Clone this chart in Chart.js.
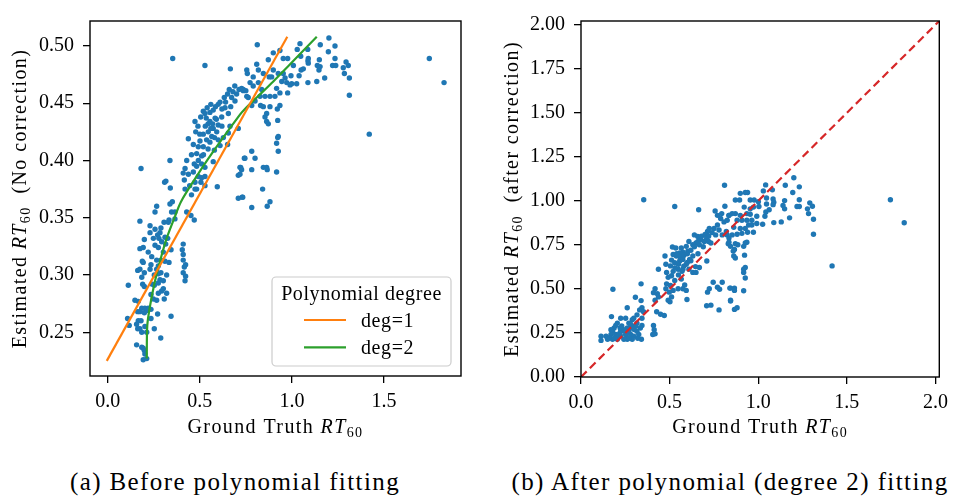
<!DOCTYPE html>
<html>
<head>
<meta charset="utf-8">
<script src="https://cdn.jsdelivr.net/npm/chart.js@4"></script>
<style>
  html, body { margin: 0; padding: 0; background: #fff; }
  #wrap { position: relative; width: 955px; height: 499px; overflow: hidden; }
  canvas { position: absolute; top: 0; }
  .cap { position: absolute; top: 468px; font-family: "Liberation Serif", serif; font-size: 25px;
         letter-spacing: 1.4px; line-height: 28px; text-align: center; color: #000; white-space: nowrap; }
</style>
</head>
<body>
<div id="wrap">
  <canvas id="before" width="475" height="460" style="left:0"></canvas>
  <canvas id="after" width="475" height="460" style="left:480px"></canvas>
  <div class="cap" style="left:0; width:470px">(a) Before polynomial fitting</div>
  <div class="cap" style="left:505px; width:450px">(b) After polynomial (degree 2) fitting</div>
</div>
<script>
// ground truth RT60 vs estimated RT60 (no correction)
const beforePoints = [
  [0.353,0.489],[0.528,0.483],[0.666,0.480],[0.181,0.393],[0.338,0.400],[0.309,0.381],[0.340,0.376],
  [0.351,0.364],[0.595,0.377],[0.709,0.367],[0.730,0.368],[0.709,0.387],[0.722,0.394],[0.742,0.402],
  [0.474,0.434],[0.438,0.419],[0.478,0.425],[0.519,0.443],[0.528,0.441],[0.555,0.442],[0.573,0.444],
  [0.600,0.449],[0.610,0.451],[0.633,0.455],[0.651,0.458],[0.673,0.455],[0.691,0.452],[0.713,0.462],
  [0.736,0.461],[0.668,0.447],[0.637,0.446],[0.655,0.441],[0.619,0.438],[0.583,0.437],[0.555,0.434],
  [0.600,0.431],[0.573,0.428],[0.592,0.425],[0.546,0.425],[0.519,0.423],[0.537,0.418],[0.501,0.417],
  [0.555,0.416],[0.519,0.412],[0.492,0.412],[0.483,0.406],[0.510,0.404],[0.492,0.400],[0.510,0.397],
  [0.483,0.395],[0.528,0.394],[0.429,0.400],[0.420,0.393],[0.410,0.389],[0.438,0.388],[0.492,0.386],
  [0.510,0.385],[0.474,0.381],[0.528,0.386],[0.416,0.383],[0.420,0.375],[0.483,0.375],[0.506,0.381],
  [0.573,0.399],[0.579,0.409],[0.610,0.413],[0.628,0.420],[0.655,0.424],[0.651,0.414],[0.664,0.430],
  [0.709,0.428],[0.474,0.375],[0.528,0.378],
  [0.530,0.430],[0.545,0.432],[0.560,0.428],[0.565,0.421],[0.580,0.420],[0.570,0.432],[0.590,0.436],
  [0.535,0.437],[0.540,0.446],[0.560,0.449],[0.585,0.447],[0.620,0.445],[0.640,0.451],[0.660,0.462],
  [0.680,0.460],[0.690,0.465],[0.700,0.458],[0.620,0.430],[0.600,0.418],[0.545,0.410],[0.520,0.405],
  [0.500,0.423],[0.490,0.430],[0.505,0.438],[0.465,0.414],[0.455,0.405],[0.470,0.397],[0.465,0.390],
  [0.445,0.378],[0.455,0.370],[0.316,0.382],
  [0.812,0.501],[1.201,0.507],[1.044,0.502],[1.154,0.501],[1.234,0.500],[0.899,0.494],[0.935,0.496],
  [1.029,0.497],[1.086,0.497],[1.198,0.495],[0.872,0.488],[0.953,0.489],[0.977,0.489],[1.048,0.491],
  [1.089,0.489],[1.087,0.487],[1.089,0.485],[1.149,0.488],[1.234,0.489],[1.294,0.486],[1.306,0.483],
  [1.221,0.483],[1.238,0.483],[1.279,0.481],[1.285,0.476],[1.312,0.472],[1.312,0.457],[1.138,0.483],
  [1.147,0.479],[1.153,0.482],[1.178,0.472],[1.135,0.469],[1.087,0.468],[1.039,0.474],[1.050,0.479],
  [1.062,0.480],[1.008,0.483],[0.995,0.474],[1.026,0.467],[0.999,0.467],[0.977,0.459],[0.755,0.479],
  [0.758,0.476],[0.809,0.484],[0.818,0.479],[0.790,0.473],[0.845,0.476],[0.877,0.473],[0.773,0.468],
  [0.727,0.463],[0.750,0.461],[0.827,0.456],[0.854,0.456],[0.755,0.456],[0.830,0.448],[0.845,0.447],
  [0.881,0.447],[0.863,0.441],[0.854,0.438],[0.863,0.434],[0.872,0.432],[0.921,0.445],[0.935,0.448],
  [0.923,0.435],[0.923,0.420],[0.926,0.421],[0.917,0.415],[0.926,0.408],[0.917,0.390],[0.782,0.408],
  [0.745,0.402],[0.800,0.402],[0.718,0.394],[0.727,0.392],[0.782,0.392],[0.845,0.394],[0.863,0.394],
  [0.866,0.392],[0.841,0.375],[0.733,0.368],[0.782,0.359],[0.866,0.360],[0.881,0.364],[0.718,0.388],
  [1.420,0.423],[1.746,0.489],[1.826,0.468],
  [0.736,0.462],[0.763,0.455],[0.782,0.448],[0.800,0.452],[0.790,0.465],[0.818,0.468],[0.836,0.462],
  [0.881,0.456],[0.908,0.456],[0.935,0.459],[0.917,0.463],[0.945,0.469],[0.963,0.472],[0.972,0.468],
  [0.990,0.466],[0.899,0.479],[0.890,0.473],[0.926,0.476],[0.953,0.476],
  [0.266,0.360],[0.257,0.355],[0.338,0.362],[0.347,0.355],[0.365,0.355],[0.175,0.347],[0.230,0.343],
  [0.257,0.340],[0.289,0.341],[0.306,0.346],[0.333,0.348],[0.329,0.346],[0.365,0.349],[0.429,0.355],
  [0.452,0.352],[0.470,0.348],[0.271,0.335],[0.248,0.332],[0.278,0.332],[0.311,0.333],[0.326,0.332],
  [0.293,0.329],[0.199,0.331],[0.257,0.326],[0.275,0.324],[0.175,0.323],[0.193,0.324],[0.315,0.327],
  [0.344,0.322],[0.239,0.316],[0.266,0.313],[0.289,0.313],[0.220,0.320],[0.302,0.320],[0.188,0.312],
  [0.193,0.311],[0.230,0.305],[0.235,0.309],[0.311,0.312],[0.333,0.311],[0.275,0.308],[0.163,0.304],
  [0.175,0.305],[0.199,0.302],[0.266,0.305],[0.275,0.301],[0.253,0.300],[0.289,0.302],[0.320,0.300],
  [0.185,0.298],[0.190,0.292],[0.199,0.290],[0.112,0.291],[0.242,0.292],[0.253,0.291],[0.284,0.296],
  [0.302,0.295],[0.275,0.293],[0.302,0.288],[0.293,0.286],[0.320,0.284],[0.275,0.284],[0.235,0.283],
  [0.248,0.279],[0.266,0.278],[0.148,0.278],[0.166,0.277],[0.307,0.279],[0.185,0.271],[0.202,0.271],
  [0.220,0.271],[0.212,0.269],[0.235,0.270],[0.175,0.268],[0.199,0.267],[0.163,0.268],[0.235,0.262],
  [0.271,0.266],[0.344,0.264],[0.108,0.262],[0.117,0.256],[0.166,0.260],[0.181,0.260],[0.157,0.257],
  [0.163,0.253],[0.175,0.253],[0.185,0.250],[0.202,0.255],[0.212,0.250],[0.253,0.253],[0.288,0.245],
  [0.157,0.239],[0.185,0.237],[0.193,0.236],[0.199,0.234],[0.202,0.231],[0.193,0.226],[0.212,0.227],
  [0.410,0.327],[0.405,0.322],[0.410,0.318],[0.410,0.313],[0.416,0.307],[0.423,0.309],[0.410,0.302],
  [0.423,0.299],[0.420,0.295],[0.230,0.337],[0.284,0.337]
];

// fitted curves on the left panel (x = ground truth, y = estimate)
const deg1Curve = [[-0.005,0.225],[0.975,0.508]];
const deg2Curve = [
  [0.212,0.227],[0.215,0.256],[0.230,0.273],[0.253,0.292],[0.284,0.312],[0.320,0.332],[0.365,0.351],
  [0.398,0.364],[0.474,0.384],[0.565,0.406],[0.718,0.440],[0.745,0.445],[0.809,0.455],[0.899,0.469],
  [0.990,0.484],[1.135,0.508]
];

// ground truth RT60 vs estimated RT60 after correction
const afterPoints = [
  [0.810,1.089],[0.354,1.007],[0.529,0.968],[0.664,0.950],[0.757,0.943],[0.770,0.918],[0.794,0.928],
  [0.812,0.970],[0.835,0.918],[0.788,0.900],[0.807,0.881],[0.825,0.890],[0.770,0.863],[0.751,0.844],
  [0.779,0.835],[0.724,0.844],[0.714,0.826],[0.760,0.807],[0.797,0.807],[0.820,0.826],[0.835,0.789],
  [0.831,0.757],[0.640,0.807],[0.659,0.798],[0.677,0.779],[0.649,0.761],[0.631,0.751],[0.668,0.751],
  [0.696,0.770],[0.709,0.789],[0.720,0.770],[0.733,0.761],[0.609,0.770],[0.594,0.742],[0.603,0.715],
  [0.566,0.733],[0.575,0.709],[0.516,0.738],[0.535,0.733],[0.557,0.705],[0.538,0.687],[0.520,0.696],
  [0.511,0.664],[0.474,0.687],[0.479,0.640],[0.505,0.631],[0.529,0.649],[0.557,0.659],[0.575,0.668],
  [0.594,0.640],[0.575,0.612],[0.548,0.612],[0.613,0.668],[0.631,0.687],[0.609,0.612],[0.631,0.594],
  [0.649,0.594],[0.668,0.622],[0.710,0.659],[0.646,0.627],[0.437,0.612],[0.483,0.594],[0.492,0.566],
  [0.511,0.575],[0.529,0.548],[0.505,0.520],[0.483,0.529],[0.479,0.501],[0.498,0.482],[0.520,0.492],
  [0.548,0.501],[0.511,0.455],[0.492,0.436],[0.502,0.427],[0.566,0.556],[0.585,0.523],[0.575,0.501],
  [0.594,0.492],[0.598,0.440],[0.418,0.501],[0.409,0.479],[0.431,0.473],[0.418,0.436],[0.437,0.455],
  [0.339,0.529],[0.180,0.498],[0.307,0.453],[0.339,0.434],[0.427,0.371],[0.449,0.356],[0.470,0.349],
  [0.344,0.393],[0.331,0.381],[0.353,0.371],[0.316,0.353],[0.344,0.334],[0.298,0.334],[0.289,0.325],
  [0.316,0.306],[0.344,0.293],[0.335,0.278],[0.298,0.288],[0.280,0.278],[0.261,0.393],[0.224,0.334],
  [0.205,0.306],[0.221,0.278],[0.172,0.343],[0.187,0.278],[0.178,0.260],[0.169,0.241],[0.196,0.241],
  [0.224,0.232],[0.252,0.241],[0.261,0.278],[0.280,0.241],[0.298,0.232],[0.316,0.260],[0.326,0.241],
  [0.289,0.214],[0.261,0.214],[0.242,0.214],[0.205,0.214],[0.178,0.214],[0.159,0.223],[0.141,0.232],
  [0.113,0.232],[0.113,0.208],[0.150,0.214],[0.224,0.260],[0.242,0.269],[0.341,0.214],[0.409,0.293],
  [0.413,0.269],[0.418,0.245],[0.405,0.241],[0.252,0.334],[0.270,0.306],[0.169,0.269],[0.196,0.293],
  [0.797,0.538],[0.770,0.510],[0.724,0.501],[0.714,0.482],[0.782,0.498],[0.840,0.505],[0.844,0.436],
  [0.709,0.405],[0.733,0.408],[0.779,0.381],[0.746,0.538],
  [0.540,0.700],[0.560,0.680],[0.580,0.690],[0.600,0.700],[0.620,0.720],[0.640,0.740],[0.660,0.770],
  [0.680,0.800],[0.700,0.810],[0.620,0.660],[0.600,0.650],[0.580,0.630],[0.550,0.640],[0.530,0.620],
  [0.520,0.600],[0.550,0.580],[0.570,0.600],[0.660,0.700],[0.690,0.740],[0.720,0.800],[0.740,0.820],
  [0.220,0.250],[0.250,0.260],[0.270,0.260],[0.300,0.270],[0.310,0.290],[0.280,0.300],[0.230,0.290],
  [0.200,0.240],[0.190,0.220],[0.270,0.220],[0.320,0.220],
  [1.201,1.132],[1.042,1.091],[1.153,1.089],[1.232,1.080],[1.029,1.057],[1.080,1.063],[0.899,1.043],
  [0.927,1.048],[0.940,1.048],[0.871,1.005],[0.895,1.005],[0.955,1.005],[0.977,1.005],[1.047,1.017],
  [1.084,1.011],[1.088,0.993],[1.149,1.002],[1.195,1.048],[1.232,1.007],[1.291,0.989],[1.306,0.970],
  [1.219,0.968],[1.232,0.968],[1.278,0.955],[1.284,0.928],[1.312,0.896],[1.312,0.811],[1.177,0.904],
  [1.130,0.881],[1.088,0.877],[1.140,0.974],[1.149,0.955],[1.001,0.996],[1.004,0.968],[0.921,0.965],
  [0.955,0.955],[0.973,0.965],[1.047,0.983],[1.062,0.950],[1.084,0.979],[0.871,0.928],[0.899,0.918],
  [0.936,0.928],[0.955,0.924],[0.992,0.913],[1.038,0.913],[1.043,0.937],[0.835,0.918],[0.853,0.928],
  [0.881,0.890],[0.908,0.890],[0.936,0.890],[0.964,0.890],[0.992,0.872],[1.025,0.868],[0.946,0.863],
  [0.964,0.863],[0.862,0.850],[0.899,0.844],[0.927,0.844],[0.940,0.822],[0.973,0.822],[0.908,0.816],
  [0.881,0.811],[0.853,0.807],[0.825,0.807],[0.835,0.765],[0.844,0.742],[0.871,0.757],[0.885,0.751],
  [0.927,0.761],[0.936,0.765],[0.918,0.742],[0.859,0.715],[0.866,0.724],[0.862,0.687],[0.871,0.676],
  [0.923,0.692],[0.927,0.622],[0.918,0.612],[0.918,0.594],[0.927,0.562],[0.844,0.505],[0.866,0.505],
  [0.866,0.492],[0.918,0.490],[0.844,0.432],[0.866,0.384],[0.881,0.393],
  [1.417,0.631],[1.746,1.007],[1.824,0.876]
];
const identityLine = [[0, 0], [2.03, 2.03]];

const beforeXTicks = [0, 0.5, 1.0, 1.5];
const beforeYTicks = [0.25, 0.30, 0.35, 0.40, 0.45, 0.50];
const afterXTicks = [0, 0.5, 1.0, 1.5, 2.0];
const afterYTicks = [0, 0.25, 0.5, 0.75, 1.0, 1.25, 1.5, 1.75, 2.0];

const BLUE = '#1f77b4', ORANGE = '#ff7f0e', GREEN = '#2ca02c', RED = '#d62728';
const SERIF = '"Liberation Serif", "DejaVu Serif", serif';
const toXY = arr => arr.map(([x, y]) => ({x, y}));

// mixed roman / italic / subscript text, e.g. "Ground Truth RT_60"
function drawRich(ctx, parts, x, y, vertical) {
  const fonts = {r: '20px ' + SERIF, i: 'italic 20px ' + SERIF, s: '14px ' + SERIF};
  ctx.save();
  ctx.letterSpacing = '1.4px';
  let total = 0;
  parts.forEach(([t, k]) => { ctx.font = fonts[k]; total += ctx.measureText(t).width; });
  ctx.translate(x, y);
  if (vertical) ctx.rotate(-Math.PI / 2);
  ctx.fillStyle = '#000';
  ctx.textAlign = 'left';
  ctx.textBaseline = 'alphabetic';
  let cx = -total / 2;
  parts.forEach(([t, k]) => {
    ctx.font = fonts[k];
    ctx.fillText(t, cx, k === 's' ? 4 : 0);
    cx += ctx.measureText(t).width;
  });
  ctx.restore();
}

// box around the plot area + axis titles
const framePlugin = {
  id: 'frame',
  afterDraw(chart, args, opts) {
    const {ctx, chartArea: a} = chart;
    ctx.save();
    ctx.strokeStyle = '#000';
    ctx.lineWidth = 1.4;
    ctx.strokeRect(a.left, a.top, a.right - a.left, a.bottom - a.top);
    ctx.restore();
    drawRich(ctx, opts.xTitle, (a.left + a.right) / 2, opts.xTitleBaseline, false);
    drawRich(ctx, opts.yTitle, opts.yTitleBaseline, (a.top + a.bottom) / 2, true);
  }
};

// matplotlib style legend in the lower right corner
const legendBoxPlugin = {
  id: 'legendBox',
  afterDraw(chart, args, opts) {
    if (!opts.show) return;
    const {ctx, chartArea: a} = chart;
    const w = 179, h = 89;
    const x0 = a.right - 10 - w, y0 = a.bottom - 10 - h;
    ctx.save();
    ctx.beginPath();
    ctx.roundRect(x0, y0, w, h, 4);
    ctx.fillStyle = 'rgba(255,255,255,0.8)';
    ctx.fill();
    ctx.strokeStyle = '#cccccc';
    ctx.lineWidth = 1.2;
    ctx.stroke();
    ctx.fillStyle = '#000';
    ctx.letterSpacing = '0.6px';
    ctx.font = '20px ' + SERIF;
    ctx.textAlign = 'center';
    ctx.textBaseline = 'alphabetic';
    ctx.fillText(opts.title, x0 + w / 2, y0 + 23);
    ctx.textAlign = 'left';
    const items = chart.data.datasets.filter(d => d.showLine);
    items.forEach((d, i) => {
      const ly = y0 + 43 + i * 27.3;
      ctx.strokeStyle = d.borderColor;
      ctx.lineWidth = 2.2;
      ctx.beginPath();
      ctx.moveTo(x0 + 32, ly);
      ctx.lineTo(x0 + 74, ly);
      ctx.stroke();
      ctx.fillText(d.label, x0 + 89, ly + 7);
    });
    ctx.restore();
  }
};

function axisOpts(min, max, ticks, digits, isX, fitSize) {
  return {
    type: 'linear',
    min, max,
    afterBuildTicks: scale => { scale.ticks = ticks.map(v => ({value: v})); },
    afterFit: scale => { if (isX) scale.height = fitSize; else scale.width = fitSize; },
    border: {display: false},
    grid: {display: true, drawOnChartArea: false, drawTicks: true, tickLength: 7, color: '#000', lineWidth: 1.3},
    ticks: {
      color: '#000',
      font: {family: SERIF, size: 20},
      padding: isX ? 7 : 9,
      maxRotation: 0,
      callback: v => Number(v).toFixed(digits)
    }
  };
}

const scatterStyle = {pointRadius: 2.7, pointHoverRadius: 2.7, borderWidth: 0, backgroundColor: BLUE, pointBorderWidth: 0};

new Chart(document.getElementById('before'), {
  type: 'scatter',
  data: {
    datasets: [
      {label: 'deg=1', data: toXY(deg1Curve), showLine: true, borderColor: ORANGE, borderWidth: 2.2,
       pointRadius: 0, tension: 0, order: 0},
      {label: 'deg=2', data: toXY(deg2Curve), showLine: true, borderColor: GREEN, borderWidth: 2.2,
       pointRadius: 0, tension: 0.3, order: 0},
      {label: 'samples', data: toXY(beforePoints), ...scatterStyle, order: 1}
    ]
  },
  options: {
    responsive: false,
    animation: false,
    devicePixelRatio: 1,
    layout: {padding: {left: 0, top: 7, right: 14, bottom: 0}},
    scales: {
      x: axisOpts(-0.096, 1.918, beforeXTicks, 1, true, 84),
      y: axisOpts(0.2118, 0.5218, beforeYTicks, 2, false, 90)
    },
    plugins: {
      legend: {display: false},
      tooltip: {enabled: false},
      frame: {
        xTitle: [['Ground Truth ', 'r'], ['RT', 'i'], ['60', 's']],
        xTitleBaseline: 433,
        yTitle: [['Estimated ', 'r'], ['RT', 'i'], ['60', 's'], ['  (No correction)', 'r']],
        yTitleBaseline: 26
      },
      legendBox: {show: true, title: 'Polynomial degree'}
    }
  },
  plugins: [framePlugin, legendBoxPlugin]
});

new Chart(document.getElementById('after'), {
  type: 'scatter',
  data: {
    datasets: [
      {label: 'y = x', data: toXY(identityLine), showLine: true, borderColor: RED,
       borderWidth: 2.2, borderDash: [8, 4.5], pointRadius: 0, fill: false, order: 0},
      {label: 'samples', data: toXY(afterPoints), ...scatterStyle, order: 1}
    ]
  },
  options: {
    responsive: false,
    animation: false,
    devicePixelRatio: 1,
    layout: {padding: {left: 0, top: 13, right: 9, bottom: 0}},
    scales: {
      x: axisOpts(0, 2.022, afterXTicks, 1, true, 83),
      y: axisOpts(0, 2.022, afterYTicks, 2, false, 101)
    },
    plugins: {
      legend: {display: false},
      tooltip: {enabled: false},
      frame: {
        xTitle: [['Ground Truth ', 'r'], ['RT', 'i'], ['60', 's']],
        xTitleBaseline: 433,
        yTitle: [['Estimated ', 'r'], ['RT', 'i'], ['60', 's'], ['  (after correction)', 'r']],
        yTitleBaseline: 38
      },
      legendBox: {show: false}
    }
  },
  plugins: [framePlugin, legendBoxPlugin]
});
</script>
</body>
</html>
